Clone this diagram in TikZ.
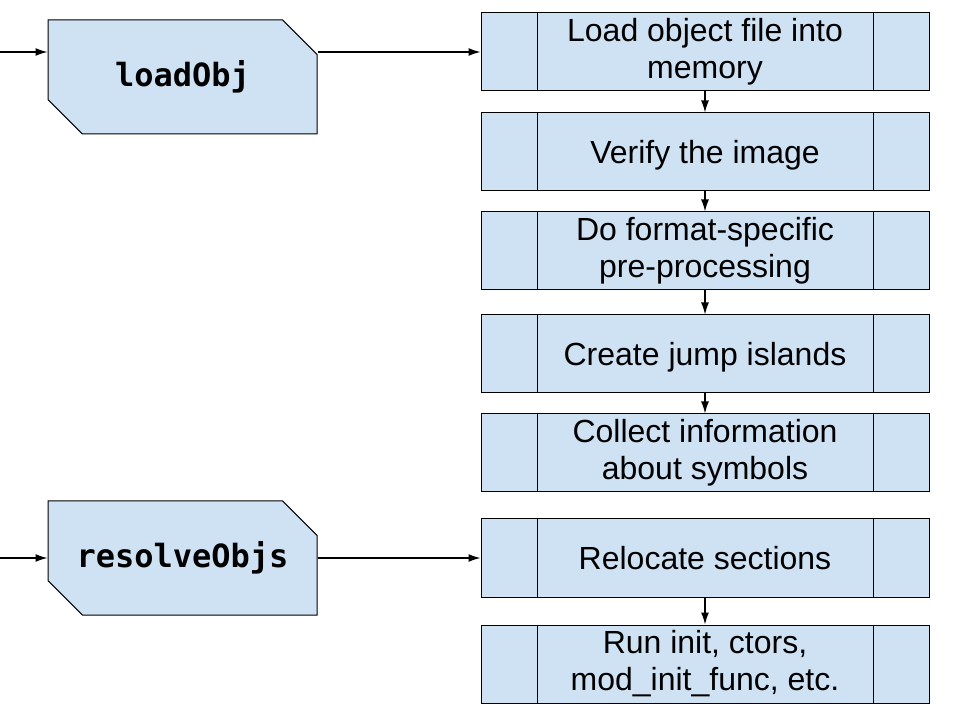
\documentclass[tikz,border=0pt]{standalone}
\usepackage{fontspec}
\setmainfont{Liberation Sans}
\setmonofont{DejaVu Sans Mono}
\usepackage{xcolor}
\usetikzlibrary{shapes.misc,arrows.meta}

\definecolor{boxblue}{HTML}{CFE2F3}

\tikzset{
	fnbox/.style={chamfered rectangle, chamfered rectangle xsep=18pt, chamfered rectangle ysep=18pt,
		chamfered rectangle corners={north east,south west},
		draw, fill=boxblue, line width=1pt, minimum width=269pt, minimum height=114pt, inner sep=0pt,
		font=\fontsize{32}{37}\selectfont\ttfamily\bfseries},
	stagebox/.style={draw, fill=boxblue, line width=1pt, minimum width=448pt, minimum height=78pt,
		inner sep=0pt, align=center, font=\fontsize{32}{37}\selectfont,
		execute at begin node={\rule{0pt}{30pt}},
		execute at end node={\rule[-7.4pt]{0pt}{7.4pt}},
		path picture={
			\draw ([xshift=56pt]path picture bounding box.north west) -- ([xshift=56pt]path picture bounding box.south west);
			\draw ([xshift=-56pt]path picture bounding box.north east) -- ([xshift=-56pt]path picture bounding box.south east);
		}},
	flow/.style={-{Latex[length=12pt,width=8pt]}, line width=1.3pt}
}

\begin{document}
\begin{tikzpicture}[x=1pt,y=1pt]
	\useasboundingbox (0,0) rectangle (960,720);

	\node[fnbox] (loadobj) at (182.5,643) {loadObj};
	\node[fnbox] (resolveobjs) at (182.5,162) {resolveObjs};

	\node[stagebox] (load) at (705,668) {Load object file into\\memory};
	\node[stagebox] (verify) at (705,568) {Verify the image};
	\node[stagebox] (preproc) at (705,469) {Do format-specific\\pre-processing};
	\node[stagebox] (islands) at (705,366) {Create jump islands};
	\node[stagebox] (symbols) at (705,267) {Collect information\\about symbols};
	\node[stagebox] (relocate) at (705,162) {Relocate sections};
	\node[stagebox] (init) at (705,56) {Run init, ctors,\\mod\_init\_func, etc.};

	\coordinate (inload) at (0,668);
	\coordinate (inresolve) at (0,162);

	\draw[flow] (inload) -- (inload -| loadobj.west);
	\draw[flow] (loadobj.east |- load) -- (load.west);
	\draw[flow] (inresolve) -- (inresolve -| resolveobjs.west);
	\draw[flow] (resolveobjs.east |- relocate) -- (relocate.west);

	\draw[flow] (load) -- (verify);
	\draw[flow] (verify) -- (preproc);
	\draw[flow] (preproc) -- (islands);
	\draw[flow] (islands) -- (symbols);
	\draw[flow] (relocate) -- (init);
\end{tikzpicture}
\end{document}
